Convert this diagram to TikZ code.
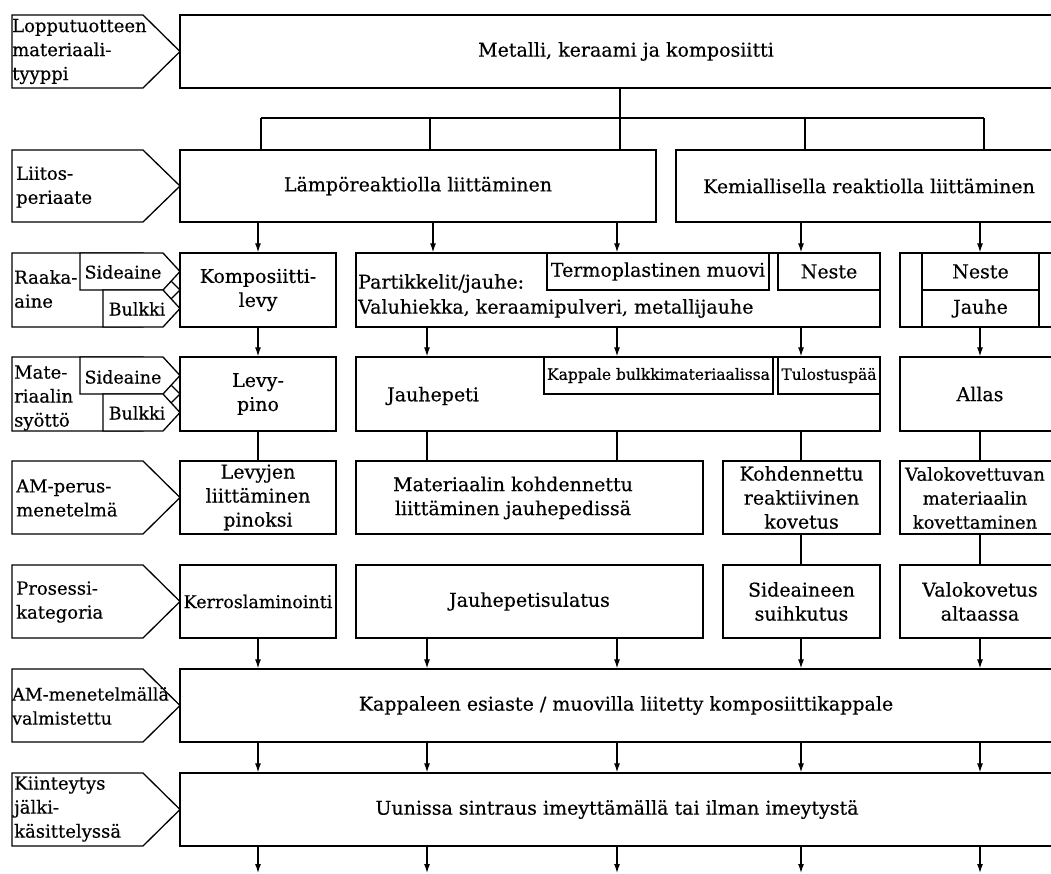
\documentclass[tikz,border=0pt]{standalone}
\usepackage{fontspec}
\setmainfont[FakeBold=0.4]{DejaVu Serif}
\usetikzlibrary{arrows.meta}
\newcommand{\mkbox}[7][]{\node[box,#1,minimum width={#5-#3},minimum height={#6-#4}] (#2) at ({(#3+#5)/2},{(#4+#6)/2}) {#7};}
\begin{document}
\begin{tikzpicture}[x=1pt,y=-1pt,
  every node/.style={font=\fontsize{19}{24}\selectfont, inner sep=0pt, align=center},
  box/.style={draw=black, line width=1.3pt, fill=white},
  lblshape/.style={draw=black, line width=1.3pt, fill=white, line join=miter},
  lbltext/.style={anchor=west, align=left, font=\fontsize{18}{24}\selectfont},
  small/.style={font=\fontsize{15.5}{19}\selectfont},
  mid/.style={font=\fontsize{17.5}{22}\selectfont},
  conn/.style={draw=black, line width=1.2pt},
  arr/.style={conn, -{Latex[length=9pt,width=6pt]}},
]
\fill[white] (0,0) rectangle (1051,873);
\useasboundingbox (0,0) rectangle (1051,873);
\clip (0,0) rectangle (1051,873);

% ---------- column coordinates ----------
\coordinate (k1) at (261,118);
\coordinate (k2) at (430,118);
\coordinate (k3) at (620,118);
\coordinate (k4) at (805,118);
\coordinate (k5) at (984,118);
\coordinate (c1) at (258,0);
\coordinate (c2t) at (433,0);
\coordinate (c2) at (427,0);
\coordinate (c3) at (617,0);
\coordinate (c4) at (801,0);
\coordinate (c5) at (980,0);
\coordinate (e1) at (258,873);
\coordinate (e2) at (427,873);
\coordinate (e3) at (617,873);
\coordinate (e4) at (801,873);
\coordinate (e5) at (980,873);

% ---------- row 1 ----------
\mkbox{top}{180}{15}{1072}{88}{Metalli, keraami ja komposiitti}

% ---------- row 2 ----------
\mkbox{lampo}{180}{150}{656}{222}{Lämpöreaktiolla liittäminen}
\mkbox{kemia}{676}{150}{1062}{222}{Kemiallisella reaktiolla liittäminen}

% ---------- row 3 ----------
\mkbox{r3a}{180}{253}{336}{327}{Komposiitti-\\levy}
\mkbox{r3b}{356}{253}{880}{327}{}
\node[lbltext, font=\fontsize{19}{24}\selectfont] (r3btxt) at (358,296) {Partikkelit/jauhe:\\[1pt]Valuhiekka, keraamipulveri, metallijauhe};
\mkbox{termo}{547}{253}{769}{290}{Termoplastinen muovi}
\mkbox{neste1}{778}{253}{880}{290}{Neste}
\mkbox{r3d}{900}{253}{1060}{327}{}
\mkbox{neste2}{922}{253}{1039}{290}{Neste}
\mkbox{jauhe}{922}{290}{1039}{327}{Jauhe}

% ---------- row 4 ----------
\mkbox{r4a}{180}{357}{336}{431}{Levy-\\pino}
\mkbox{r4b}{356}{357}{880}{431}{}
\node (r4btxt) at (433,396) {Jauhepeti};
\mkbox[small]{kappale}{544}{357}{773}{394}{Kappale bulkkimateriaalissa}
\mkbox[small]{tulostus}{778}{357}{880}{394}{Tulostuspää}
\mkbox{allas}{900}{357}{1060}{431}{Allas}

% ---------- row 5 ----------
\mkbox{r5a}{180}{461}{336}{534}{Levyjen\\liittäminen\\pinoksi}
\mkbox{r5b}{356}{461}{703}{534}{}
\node (r5btxt) at (513,498) {Materiaalin kohdennettu\\liittäminen jauhepedissä};
\mkbox{r5c}{723}{461}{880}{534}{Kohdennettu\\reaktiivinen\\kovetus}
\mkbox{r5d}{900}{461}{1060}{534}{}
\node[font=\fontsize{18}{24}\selectfont] (r5dtxt) at (975,498) {Valokovettuvan\\materiaalin\\kovettaminen};

% ---------- row 6 ----------
\mkbox[mid]{r6a}{180}{565}{336}{638}{Kerroslaminointi}
\mkbox{r6b}{356}{565}{703}{638}{Jauhepetisulatus}
\mkbox{r6c}{723}{565}{880}{638}{Sideaineen\\suihkutus}
\mkbox{r6d}{900}{565}{1060}{638}{Valokovetus\\altaassa}

% ---------- row 7, 8 ----------
\mkbox{r7}{180}{669}{1072}{742}{Kappaleen esiaste / muovilla liitetty komposiittikappale}
\mkbox{r8}{180}{773}{1054}{846}{Uunissa sintraus imeyttämällä tai ilman imeytystä}

% ---------- left labels ----------
\draw[lblshape] (12,15) -- (143,15) -- (180,51.5) -- (143,88) -- (12,88) -- cycle;
\node[lbltext] (t1) at (12,51.5) {Lopputuotteen\\materiaali-\\tyyppi};

\draw[lblshape] (12,150) -- (143,150) -- (180,186) -- (143,222) -- (12,222) -- cycle;
\node[lbltext] (t2) at (16,187) {Liitos-\\periaate};

\draw[lblshape] (12,253) -- (143,253) -- (180,290) -- (143,327) -- (12,327) -- cycle;
\draw[lblshape] (80,253) -- (163,253) -- (180,271.5) -- (163,290) -- (80,290) -- cycle;
\draw[lblshape] (103,290) -- (163,290) -- (180,308.5) -- (163,327) -- (103,327) -- cycle;
\node[lbltext] (t3) at (14,289) {Raaka-\\aine};
\node[mid] (t3s) at (123,272) {Sideaine};
\node[mid] (t3b) at (137,309) {Bulkki};

\draw[lblshape] (12,357) -- (143,357) -- (180,394) -- (143,431) -- (12,431) -- cycle;
\draw[lblshape] (80,357) -- (163,357) -- (180,375.5) -- (163,394) -- (80,394) -- cycle;
\draw[lblshape] (103,394) -- (163,394) -- (180,412.5) -- (163,431) -- (103,431) -- cycle;
\node[lbltext] (t4) at (14,398) {Mate-\\riaalin\\syöttö};
\node[mid] (t4s) at (123,377) {Sideaine};
\node[mid] (t4b) at (137,413) {Bulkki};

\draw[lblshape] (12,461) -- (143,461) -- (180,497.5) -- (143,534) -- (12,534) -- cycle;
\node[lbltext] (t5) at (16,498) {AM-perus-\\menetelmä};

\draw[lblshape] (12,565) -- (143,565) -- (180,601.5) -- (143,638) -- (12,638) -- cycle;
\node[lbltext] (t6) at (16,602) {Prosessi-\\kategoria};

\draw[lblshape] (12,669) -- (143,669) -- (180,705.5) -- (143,742) -- (12,742) -- cycle;
\node[lbltext, font=\fontsize{17.5}{24}\selectfont] (t7) at (12,706) {AM-menetelmällä\\valmistettu};

\draw[lblshape] (12,773) -- (143,773) -- (180,809.5) -- (143,846) -- (12,846) -- cycle;
\node[lbltext] (t8) at (14,809) {Kiinteytys\\jälki-\\käsittelyssä};

% ---------- connectors ----------
\draw[conn] (top.south -| k3) -- (k3);
\draw[conn] (k1) -- (k5);
\draw[conn] (k1) -- (lampo.north -| k1);
\draw[conn] (k2) -- (lampo.north -| k2);
\draw[conn] (k3) -- (lampo.north -| k3);
\draw[conn] (k4) -- (kemia.north -| k4);
\draw[conn] (k5) -- (kemia.north -| k5);

\draw[arr] (lampo.south -| c1) -- (r3a.north -| c1);
\draw[arr] (lampo.south -| c2t) -- (r3b.north -| c2t);
\draw[arr] (lampo.south -| c3) -- (termo.north -| c3);
\draw[arr] (kemia.south -| c4) -- (neste1.north -| c4);
\draw[arr] (kemia.south -| c5) -- (neste2.north -| c5);

\draw[arr] (r3a.south -| c1) -- (r4a.north -| c1);
\draw[arr] (r3b.south -| c2) -- (r4b.north -| c2);
\draw[arr] (r3b.south -| c3) -- (kappale.north -| c3);
\draw[arr] (r3b.south -| c4) -- (tulostus.north -| c4);
\draw[arr] (jauhe.south -| c5) -- (allas.north -| c5);

\draw[conn] (r4a.south -| c1) -- (r5a.north -| c1);
\draw[conn] (r4b.south -| c2) -- (r5b.north -| c2);
\draw[conn] (r4b.south -| c3) -- (r5b.north -| c3);
\draw[conn] (r4b.south -| c4) -- (r5c.north -| c4);
\draw[conn] (allas.south -| c5) -- (r5d.north -| c5);

\draw[conn] (r5c.south -| c4) -- (r6c.north -| c4);
\draw[conn] (r5d.south -| c5) -- (r6d.north -| c5);

\draw[arr] (r6a.south -| c1) -- (r7.north -| c1);
\draw[arr] (r6b.south -| c2) -- (r7.north -| c2);
\draw[arr] (r6b.south -| c3) -- (r7.north -| c3);
\draw[arr] (r6c.south -| c4) -- (r7.north -| c4);
\draw[arr] (r6d.south -| c5) -- (r7.north -| c5);

\foreach \i in {1,...,5} {
  \draw[arr] (r7.south -| c\i) -- (r8.north -| c\i);
  \draw[arr] (r8.south -| c\i) -- (e\i);
}
\end{tikzpicture}
\end{document}
